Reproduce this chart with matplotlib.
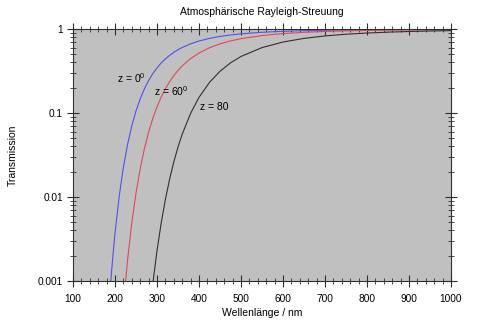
import matplotlib
matplotlib.use("Agg")
import matplotlib.pyplot as plt
from matplotlib.ticker import FixedLocator, MultipleLocator, LogLocator, NullFormatter, FixedFormatter

plt.rcParams["font.family"] = ["Liberation Sans", "DejaVu Sans"]
plt.rcParams["mathtext.fontset"] = "custom"
plt.rcParams["mathtext.rm"] = "Liberation Sans"
plt.rcParams["mathtext.it"] = "Liberation Sans"

# Wavelength grid in nm
wavelength = [180, 185, 190, 195, 200, 210, 220, 230, 240, 250, 260, 270, 280, 290,
              300, 310, 320, 330, 340, 350, 360, 380, 400, 425, 450, 475, 500, 550,
              600, 650, 700, 750, 800, 850, 900, 950, 1000]

# Transmission through the atmosphere, zenith angle 0 deg
trans_z0 = [1.81e-4, 4.52e-4, 1.003e-3, 2.007e-3, 3.70e-3, 0.01020, 0.02260, 0.04238,
            0.07023, 0.1056, 0.1474, 0.1938, 0.2432, 0.2938, 0.3442, 0.3935, 0.4409,
            0.4857, 0.5278, 0.5669, 0.6029, 0.6666, 0.7198, 0.7737, 0.8162, 0.8498,
            0.8763, 0.9145, 0.9393, 0.9559, 0.9672, 0.9752, 0.9809, 0.9850, 0.9882,
            0.9905, 0.9923]

# Zenith angle 60 deg
trans_z60 = [None, None, None, None, None, 1.040e-4, 5.108e-4, 1.796e-3, 4.932e-3,
             0.01115, 0.02173, 0.03756, 0.05915, 0.08632, 0.1185, 0.1548, 0.1944,
             0.2359, 0.2786, 0.3214, 0.3635, 0.4444, 0.5181, 0.5986, 0.6662, 0.7222,
             0.7679, 0.8363, 0.8823, 0.9137, 0.9355, 0.9510, 0.9622, 0.9702, 0.9765,
             0.9811, 0.9847]

# Zenith angle 80 deg
trans_z80 = [None, None, None, None, None, None, None, None, None, None, None, None,
             3.16e-4, 9.27e-4, 2.291e-3, 4.913e-3, 9.393e-3, 0.01630, 0.02618, 0.03936,
             0.05592, 0.09909, 0.1535, 0.2315, 0.3141, 0.3954, 0.4713, 0.6007, 0.6999,
             0.7733, 0.8271, 0.8667, 0.8958, 0.9178, 0.9343, 0.9470, 0.9568]

x_ticks = [100, 200, 300, 400, 500, 600, 700, 800, 900, 1000]
y_ticks = [0.001, 0.01, 0.1, 1]
y_tick_labels = ["0.001", "0.01", "0.1", "1"]

curve_labels = ["z = 0$^0$", "z = 60$^0$", "z = 80"]
label_pos = [(204, 0.26), (294, 0.183), (402, 0.117)]


def pairs(xs, ys):
    pts = [(x, y) for x, y in zip(xs, ys) if y is not None]
    return [p[0] for p in pts], [p[1] for p in pts]


fig = plt.figure(figsize=(5.0, 3.26), dpi=100)
ax = fig.add_axes([0.146, 0.138, 0.756, 0.773])
ax.set_facecolor("#c0c0c0")

for series, color in ((trans_z0, "#5050f0"), (trans_z60, "#e04858"), (trans_z80, "#303030")):
    xs, ys = pairs(wavelength, series)
    ax.plot(xs, ys, color=color, lw=0.8)

for text, (lx, ly) in zip(curve_labels, label_pos):
    ax.text(lx, ly, text, fontsize=7.5, ha="left", va="center", color="black")

ax.set_yscale("log")
ax.set_xlim(100, 1000)
ax.set_ylim(0.001, 1)

ax.xaxis.set_major_locator(FixedLocator(x_ticks))
ax.xaxis.set_minor_locator(MultipleLocator(20))
ax.yaxis.set_major_locator(FixedLocator(y_ticks))
ax.yaxis.set_major_formatter(FixedFormatter(y_tick_labels))
ax.yaxis.set_minor_locator(LogLocator(base=10, subs=range(2, 10)))
ax.yaxis.set_minor_formatter(NullFormatter())

ax.tick_params(which="both", direction="inout", top=True, right=True,
               labelsize=7.3, color="#303030")
ax.tick_params(which="major", length=8.5, width=0.8, pad=3)
ax.tick_params(which="minor", length=4.5, width=0.6)
ax.tick_params(axis="x", which="major", pad=5)

for side in ("left", "right", "top", "bottom"):
    ax.spines[side].set_linewidth(0.8)
    ax.spines[side].set_color("#303030")

ax.set_title("Atmosphärische Rayleigh-Streuung", fontsize=7.5, pad=10)
ax.set_xlabel("Wellenlänge / nm", fontsize=7.5, labelpad=3)
ax.set_ylabel("Transmission", fontsize=7.5, labelpad=14)

fig.savefig("out.png", dpi=100, facecolor="white")
